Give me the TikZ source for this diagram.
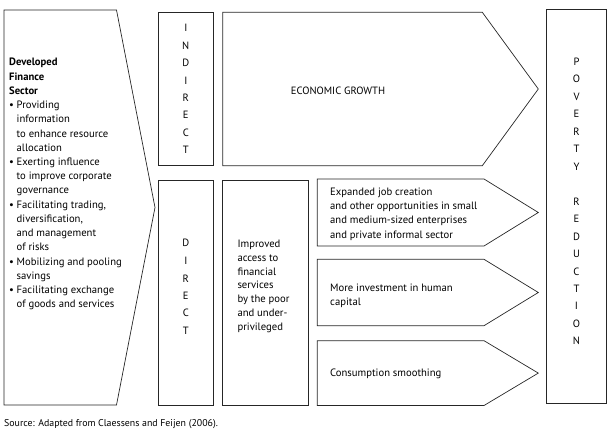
\documentclass[tikz,border=0pt]{standalone}
\usepackage{fontspec}
\setmainfont{PT Sans}
\newcommand{\bul}{\makebox[7.5bp][l]{\textbullet}}
\newcommand{\ind}{\hspace*{7.5bp}}
\begin{document}
\begin{tikzpicture}[x=1bp, y=-1bp,
        shapeline/.style={draw=black!85, line width=0.7bp},
        bodytext/.style={
            font=\fontsize{10.7}{14.3}\selectfont,
            align=left,
            anchor=north west,
            inner sep=0pt
        },
        letter/.style={font=\fontsize{10.6}{12}\selectfont, inner sep=0pt}
    ]
    \useasboundingbox (0,0) rectangle (613,433);

    % Shapes, in pixel coordinates of the reference
    \draw[shapeline] (4,10) -- (116.5,10) -- (155,207.5) -- (116.5,405) -- (4,405) -- cycle;
    \draw[shapeline] (158.3,12.3) rectangle (213.3,165.7);
    \draw[shapeline] (158.3,180) rectangle (213.3,405);
    \draw[shapeline] (222.7,12.3) -- (482.3,12.3) -- (538.3,89) -- (482.3,165.7) -- (222.7,165.7) -- cycle;
    \draw[shapeline] (222.7,180) rectangle (308.3,405);
    \foreach \top/\bot in {179/246, 259.3/325.7, 340.7/405.5} {
        \draw[shapeline] (317.3,\top) -- (484,\top) -- (538.3,{(\top+\bot)/2}) -- (484,\bot) -- (317.3,\bot) -- cycle;
    }
    \draw[shapeline] (546.7,9.3) rectangle (606.7,403.3);

    % Texts
    \node[bodytext] (sector) at (9,58) {%
        \textbf{Developed}\\ \textbf{Finance}\\ \textbf{Sector}\\
        \bul Providing\\ \ind information\\ \ind to enhance resource\\ \ind allocation\\
        \bul Exerting influence\\ \ind to improve corporate\\ \ind governance\\
        \bul Facilitating trading,\\ \ind diversification,\\ \ind and management\\ \ind of risks\\
        \bul Mobilizing and pooling\\ \ind savings\\
        \bul Facilitating exchange\\ \ind of goods and services};

    \foreach \l [count=\i] in {I,N,D,I,R,E,C,T} {
        \node[letter] (indirect\i) at (185.8,{28.3+(\i-1)*17.4}) {\l};
    }
    \foreach \l [count=\i] in {D,I,R,E,C,T} {
        \node[letter] (direct\i) at (185.8,{243.3+(\i-1)*17.5}) {\l};
    }

    \node[letter, anchor=west] (growth) at (290.7,91) {ECONOMIC GROWTH};
    \node[bodytext, font=\fontsize{10.7}{13.8}\selectfont] (access) at (237.3,240)
        {Improved\\ access to\\ financial\\ services\\ by the poor\\ and under-\\ privileged};

    \node[bodytext] (jobs) at (330,187.7)
        {Expanded job creation\\ and other opportunities in small\\ and medium-sized enterprises\\ and private informal sector};
    \node[bodytext] (human) at (330,283.7) {More investment in human\\ capital};
    \node[bodytext] (smoothing) at (330,368.7) {Consumption smoothing};

    \foreach \l [count=\i] in {P,O,V,E,R,T,Y} {
        \node[letter] (poverty\i) at (576.5,{61.7+(\i-1)*17.5}) {\l};
    }
    \foreach \l [count=\i] in {R,E,D,U,C,T,I,O,N} {
        \node[letter] (reduction\i) at (576.5,{201.9+(\i-1)*17.4}) {\l};
    }

    \node[bodytext, font=\fontsize{9.9}{11}\selectfont] (source) at (4,419)
        {Source: Adapted from Claessens and Feijen (2006).};
\end{tikzpicture}
\end{document}
